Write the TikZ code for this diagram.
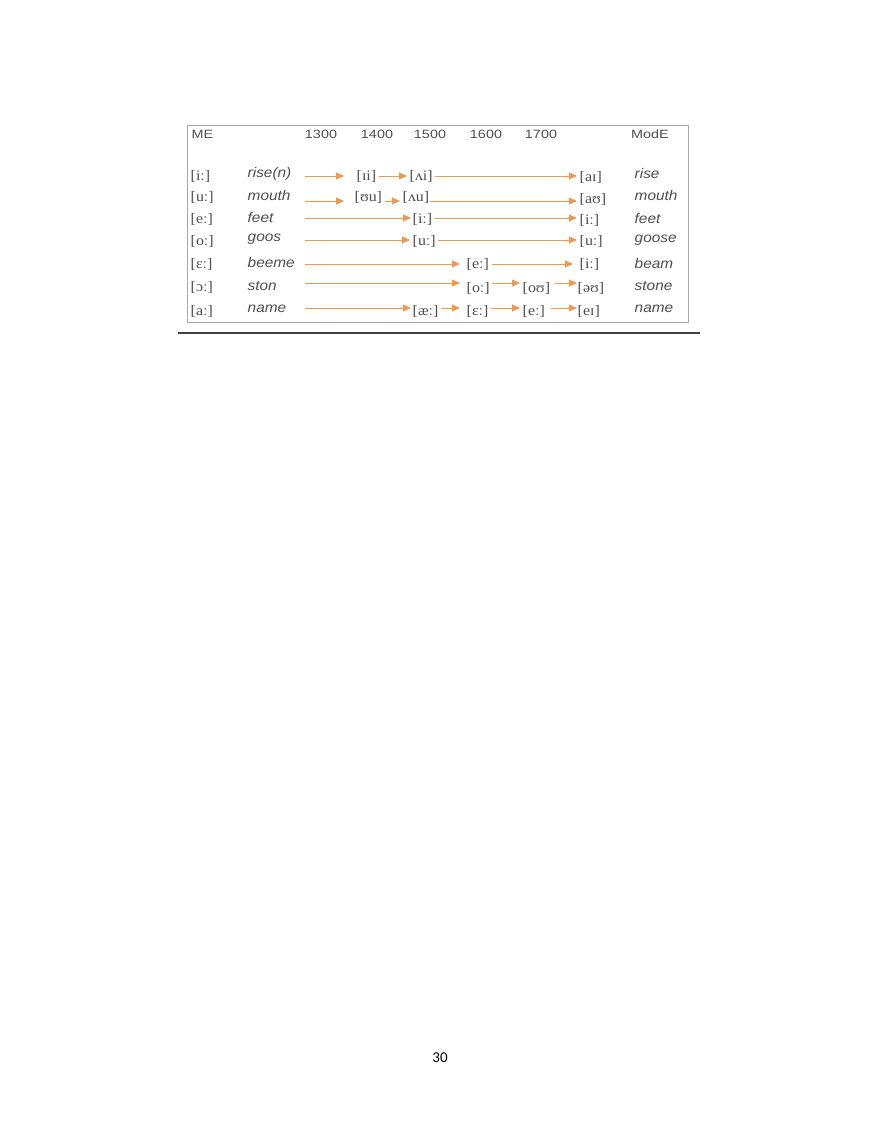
\documentclass[tikz,border=0pt]{standalone}
\usepackage{fontspec}
\usetikzlibrary{arrows.meta}
\newfontfamily\hfont[FakeStretch=1.2]{Liberation Sans}
\newfontfamily\wfont[FakeStretch=1.1]{Liberation Sans}
\newfontfamily\ipafont[FakeStretch=1.1]{Liberation Serif}
\newfontfamily\pgfont{Carlito}
\definecolor{txt}{HTML}{4F4F4F}
\definecolor{boxc}{HTML}{A8A8A8}
\definecolor{orng}{HTML}{EE9850}
\tikzset{
  hd/.style={inner sep=0.5pt, text=txt, font=\hfont\fontsize{12}{14}\selectfont},
  wd/.style={inner sep=0.5pt, anchor=west, text=txt, font=\wfont\itshape\fontsize{14}{16}\selectfont},
  ip/.style={inner sep=0.5pt, anchor=west, text=txt, font=\ipafont\fontsize{14.5}{16}\selectfont},
  arr/.style={draw=orng, line width=0.9pt, -{Triangle[length=8pt,width=7pt]}, shorten >=2pt, shorten <=2pt}
}
\begin{document}
\begin{tikzpicture}[x=1pt,y=-1pt]
\useasboundingbox[fill=white] (0,0) rectangle (880,1139);
% frame
\node[draw=boxc, line width=1.2pt, minimum width=501pt, minimum height=197pt, anchor=north west, inner sep=0] (frame) at (187,125) {};
\draw[line width=1.6pt, color=black!75] (178,333) coordinate (l1) -- (700,333) coordinate (l2);
% header
\node[hd, anchor=west] (hME) at (191,134) {ME};
\node[hd] (h13) at (321,134) {1300};
\node[hd] (h14) at (377,134) {1400};
\node[hd] (h15) at (430,134) {1500};
\node[hd] (h16) at (486,134) {1600};
\node[hd] (h17) at (541,134) {1700};
\node[hd] (hMod) at (650,134) {ModE};
% row 1
\node[ip] (m1) at (190,176) {[iː]};
\node[wd] (w1) at (247,174) {rise(n)};
\coordinate (s1) at (303,176);
\node[ip] (a1) at (356,176) {[ɪi]};
\node[ip] (b1) at (409,176) {[ʌi]};
\node[ip] (c1) at (579,177) {[aɪ]};
\node[wd] (e1) at (634,173) {rise};
\draw[arr, shorten >=12pt] (s1) -- (s1 -| a1.west);
\draw[arr] (a1.east |- s1) -- (b1.west |- s1);
\draw[arr] (b1.east |- s1) -- (c1.west |- s1);
% row 2
\node[ip] (m2) at (190,197) {[uː]};
\node[wd] (w2) at (247,195) {mouth};
\coordinate (s2) at (303,201);
\node[ip] (a2) at (354,197) {[ʊu]};
\node[ip] (b2) at (402,197) {[ʌu]};
\node[ip] (c2) at (579,199) {[aʊ]};
\node[wd] (e2) at (634,195) {mouth};
\draw[arr, shorten >=10pt] (s2) -- (s2 -| a2.west);
\draw[arr] (a2.east |- s2) -- (b2.west |- s2);
\draw[arr, shorten <=0pt] (b2.east |- s2) -- (c2.west |- s2);
% row 3
\node[ip] (m3) at (190,219) {[eː]};
\node[wd] (w3) at (247,217) {feet};
\coordinate (s3) at (303,218);
\node[ip] (b3) at (412,219) {[iː]};
\node[ip] (c3) at (579,220) {[iː]};
\node[wd] (e3) at (634,218) {feet};
\draw[arr, shorten >=1pt] (s3) -- (s3 -| b3.west);
\draw[arr] (b3.east |- s3) -- (c3.west |- s3);
% row 4
\node[ip] (m4) at (190,241) {[oː]};
\node[wd] (w4) at (247,239) {goos};
\coordinate (s4) at (303,240);
\node[ip] (b4) at (412,241) {[uː]};
\node[ip] (c4) at (579,241) {[uː]};
\node[wd] (e4) at (634,240) {goose};
\draw[arr] (s4) -- (s4 -| b4.west);
\draw[arr] (b4.east |- s4) -- (c4.west |- s4);
% row 5
\node[ip] (m5) at (190,264) {[ɛː]};
\node[wd] (w5) at (247,262) {beeme};
\coordinate (s5) at (303,264);
\node[ip] (b5) at (466,264) {[eː]};
\node[ip] (c5) at (579,264) {[iː]};
\node[wd] (e5) at (634,263) {beam};
\draw[arr, shorten >=6pt] (s5) -- (s5 -| b5.west);
\draw[arr, shorten >=6pt] (b5.east |- s5) -- (c5.west |- s5);
% row 6
\node[ip] (m6) at (190,287) {[ɔː]};
\node[wd] (w6) at (247,286) {ston};
\coordinate (s6) at (303,283);
\node[ip] (b6) at (466,288) {[oː]};
\node[ip] (c6) at (522,288) {[oʊ]};
\node[ip] (d6) at (577,288) {[əʊ]};
\node[wd] (e6) at (634,286) {stone};
\draw[arr, shorten >=6pt] (s6) -- (s6 -| b6.west);
\draw[arr] (b6.east |- s6) -- (c6.west |- s6);
\draw[arr, shorten <=4pt, shorten >=0pt] (c6.east |- s6) -- (d6.west |- s6);
% row 7
\node[ip] (m7) at (190,311) {[aː]};
\node[wd] (w7) at (247,309) {name};
\coordinate (s7) at (303,308);
\node[ip] (b7) at (412,311) {[æː]};
\node[ip] (c7) at (466,311) {[ɛː]};
\node[ip] (d7) at (522,311) {[eː]};
\node[ip] (f7) at (577,311) {[eɪ]};
\node[wd] (e7) at (634,309) {name};
\draw[arr, shorten >=1pt] (s7) -- (s7 -| b7.west);
\draw[arr, shorten >=6pt] (b7.east |- s7) -- (c7.west |- s7);
\draw[arr] (c7.east |- s7) -- (d7.west |- s7);
\draw[arr, shorten <=5pt, shorten >=0pt] (d7.east |- s7) -- (f7.west |- s7);
% page number
\node[inner sep=0, font=\pgfont\fontsize{15}{17}\selectfont] (pg) at (440,1058) {30};
\end{tikzpicture}
\end{document}
